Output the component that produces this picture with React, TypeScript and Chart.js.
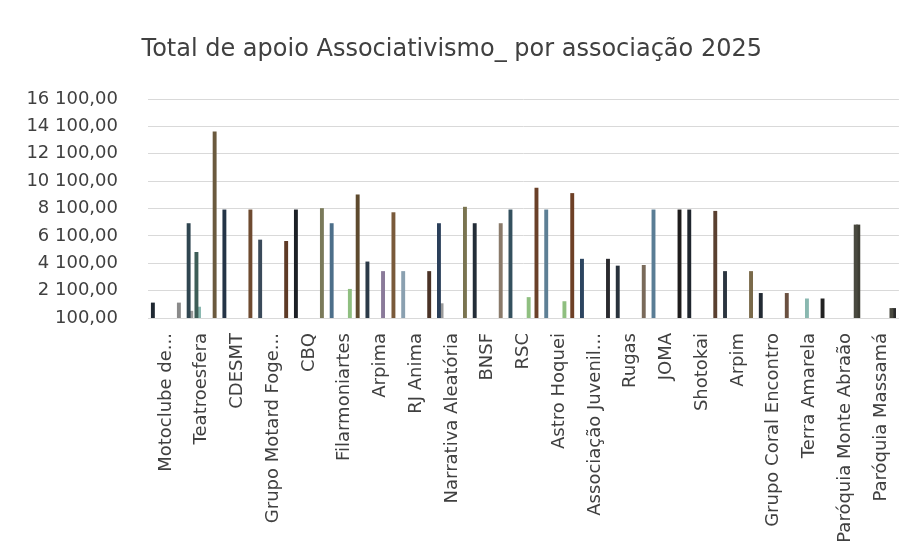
import React, { useEffect, useRef } from "react";
import { Chart, registerables } from "chart.js";

Chart.register(...registerables);

const TITLE = "Total de apoio Associativismo_ por associação 2025";

const associations = [
  "Motoclube de...",
  "Teatroesfera",
  "CDESMT",
  "Grupo Motard Foge...",
  "CBQ",
  "Filarmoniartes",
  "Arpima",
  "RJ Anima",
  "Narrativa Aleatória",
  "BNSF",
  "RSC",
  "Astro Hoquei",
  "Associação Juvenil...",
  "Rugas",
  "JOMA",
  "Shotokai",
  "Arpim",
  "Grupo Coral Encontro",
  "Terra Amarela",
  "Paróquia Monte Abraão",
  "Paróquia Massamá",
];

const _ = null;
// 11 series (Excel clustered columns), values per association
const serie1 = [1200, 7000, 8000, 5800, 8000, 7000, 4200, 3500, 7000, 7000, 8000, 8000, 4400, 3900, 8000, 8000, 3500, 1900, _, _, _];
const serie2 = [_, 600, _, _, _, _, _, _, 1150, _, _, _, _, _, _, _, _, _, _, _, _];
const serie3 = [_, _, _, _, _, _, _, _, _, _, _, _, _, _, _, _, _, _, _, _, _];
const serie4 = [_, 4900, _, _, _, _, _, _, _, _, _, _, _, _, _, _, _, _, _, _, _];
const serie5 = [_, 900, _, _, _, _, _, _, _, _, _, _, _, _, _, _, _, _, 1500, _, _];
const serie6 = [_, _, _, _, _, _, _, _, _, _, _, _, _, _, _, _, _, _, _, _, _];
const serie7 = [_, _, _, _, _, _, 3500, _, _, _, _, _, _, _, _, _, _, _, _, _, _];
const serie8 = [_, _, _, _, _, 2200, _, _, _, _, 1600, 1300, _, _, _, _, _, _, _, _, _];
const serie9 = [_, _, _, _, _, _, _, _, _, _, _, _, _, _, _, _, _, _, _, _, _];
const serie10 = [_, _, _, _, _, _, _, _, _, _, _, _, _, _, _, _, _, _, _, 6900, 800];
const serie11 = [1200, 13700, 8000, 5700, 8100, 9100, 7800, 3500, 8200, 7000, 9600, 9200, 4400, 3950, 8000, 7900, 3500, 1900, 1500, 6900, 800];

const yMin = 100;
const yMax = 16100;
const yStep = 2000;

// colours (styles kept apart from the values)
const colors1 = ["#1f2832", "#2f4550", "#243447", "#3a4a5a", "#1c2026", "#4d6f8a", "#2b3a48", "#8aa0b0", "#2a3f5a", "#232d38", "#34505e", "#5d7f95", "#2c4560", "#28323c", "#5a7d95", "#20262e", "#2b3540", "#222a33", "#222", "#222", "#222"];
const colors11 = ["#8a8a8a", "#6b5a3e", "#6e4a30", "#5e3a26", "#7a7a5a", "#5e4a2e", "#7a5a3a", "#4a3226", "#7a7450", "#8a7a6a", "#6a4028", "#6e4026", "#2a2a2e", "#7a6a5a", "#1e1c1c", "#5a4030", "#7a6a4a", "#6a5040", "#222222", "#3e3e34", "#2a2a2a"];
const seriesColors = ["", "#9a9a9a", "#888", "#3e5e58", "#8ab8b0", "#888", "#8a7a9a", "#8fbf80", "#888", "#4a4a40", ""];

function fmt(v: number): string {
  const s = Math.round(v).toString().replace(/\B(?=(\d{3})+(?!\d))/g, " ");
  return s + ",00";
}

export default function App() {
  const ref = useRef<HTMLCanvasElement | null>(null);

  useEffect(() => {
    if (!ref.current) return;
    const all = [serie1, serie2, serie3, serie4, serie5, serie6, serie7, serie8, serie9, serie10, serie11];
    const datasets = all.map((d, i) => ({
      label: "Série " + (i + 1),
      data: d,
      backgroundColor: i === 0 ? colors1 : i === 10 ? colors11 : seriesColors[i],
      barPercentage: 1.25,
      categoryPercentage: 0.8,
    }));
    const font = "'DejaVu Sans', sans-serif";
    const chart = new Chart(ref.current, {
      type: "bar",
      data: { labels: associations, datasets },
      options: {
        responsive: false,
        animation: false,
        layout: { padding: { left: 0, right: 14.5, top: 0, bottom: 0 } },
        plugins: {
          legend: { display: false },
          tooltip: { enabled: false },
          title: {
            display: true,
            text: TITLE,
            color: "#404040",
            font: { family: font, size: 24, weight: "normal" },
            padding: { top: 35.6, bottom: 34.6 },
          },
        },
        scales: {
          x: {
            grid: { display: false, drawTicks: false },
            border: { display: false },
            ticks: {
              autoSkip: false,
              minRotation: 90,
              maxRotation: 90,
              padding: 15,
              color: "#404040",
              font: { family: font, size: 18 },
            },
            afterFit: (scale: any) => {
              scale.height = 242;
            },
          },
          y: {
            min: yMin,
            max: yMax,
            grid: { color: "#d9d9d9", drawTicks: false },
            border: { display: false },
            ticks: {
              stepSize: yStep,
              padding: 30,
              color: "#404040",
              font: { family: font, size: 18 },
              callback: (v: any) => fmt(Number(v)),
            },
            afterFit: (scale: any) => {
              scale.width = 148;
            },
          },
        },
      },
    } as any);
    return () => chart.destroy();
  }, []);

  return (
    <div style={{ position: "absolute", left: 0, top: 0, width: 918, height: 560, background: "#fff" }}>
      <canvas ref={ref} width={918} height={560} />
    </div>
  );
}
